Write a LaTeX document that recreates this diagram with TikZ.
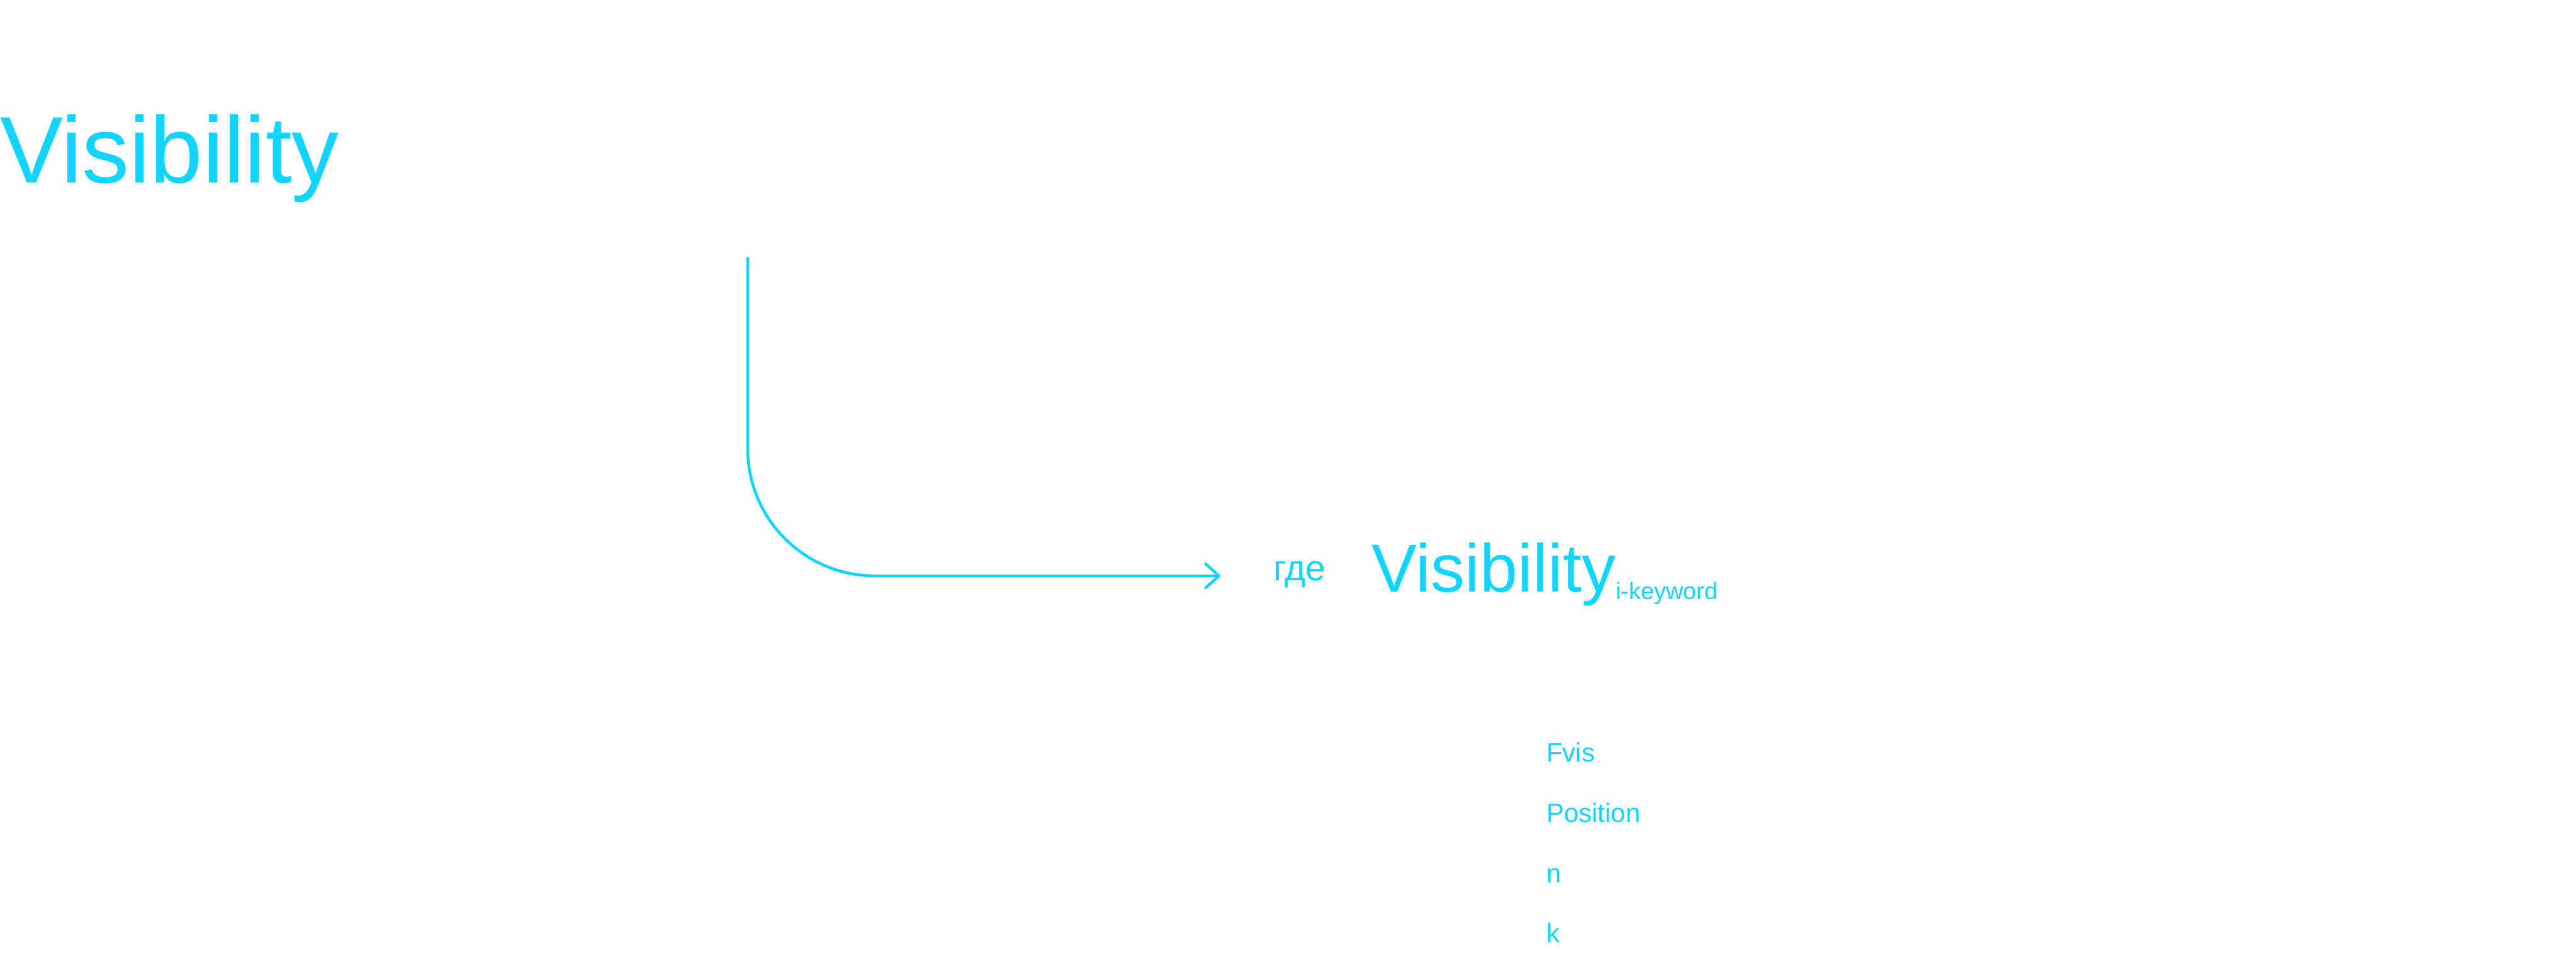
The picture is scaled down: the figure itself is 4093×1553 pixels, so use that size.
\documentclass[tikz,border=0pt]{standalone}
\usepackage{fontspec}
\setmainfont{Liberation Sans}
\usetikzlibrary{positioning,arrows.meta}
\definecolor{vis}{HTML}{12D4FF}

\begin{document}
\begin{tikzpicture}
  [ x=1pt, y=-1pt,
    every node/.style={inner sep=0pt, outer sep=0pt, text=vis, anchor=base west}]
  \tikzset{
    base/.style={
      font=\fontsize{#1}{#1}\selectfont,
    },
    titre/.style={base=150},
    terme/.style={base=108},
    mot/.style={base=57},
    indice/.style={base=38},
    param/.style={base=42},
    fleche/.style={
      draw=vis, line width=4.5pt,
      rounded corners=202pt,
      -{Straight Barb[length=21pt, width=38pt, round]},
    },
  }

  \useasboundingbox (0,0) rectangle (4093,1553);

  \node[titre] (titre) at (0,290) {Visibility};

  \coordinate (haut)   at (1188,409);
  \coordinate (pointe) at (1939,915);
  \draw[fleche] (haut) |- (pointe);

  \node[mot]   (gde)  at (2023,922) {где};
  \node[terme] (visi) at (2179,940) {Visibility};
  \node[indice] (indice) at ([yshift=-12pt]visi.base east) {i-keyword};

  % parametres
  \node[param] (fvis) at (2457,1210) {Fvis};
  \node[param, below=96pt of fvis.base west, anchor=base west]     (position) {Position};
  \node[param, below=96pt of position.base west, anchor=base west] (n)        {n};
  \node[param, below=95pt of n.base west, anchor=base west]        (k)        {k};
\end{tikzpicture}
\end{document}
